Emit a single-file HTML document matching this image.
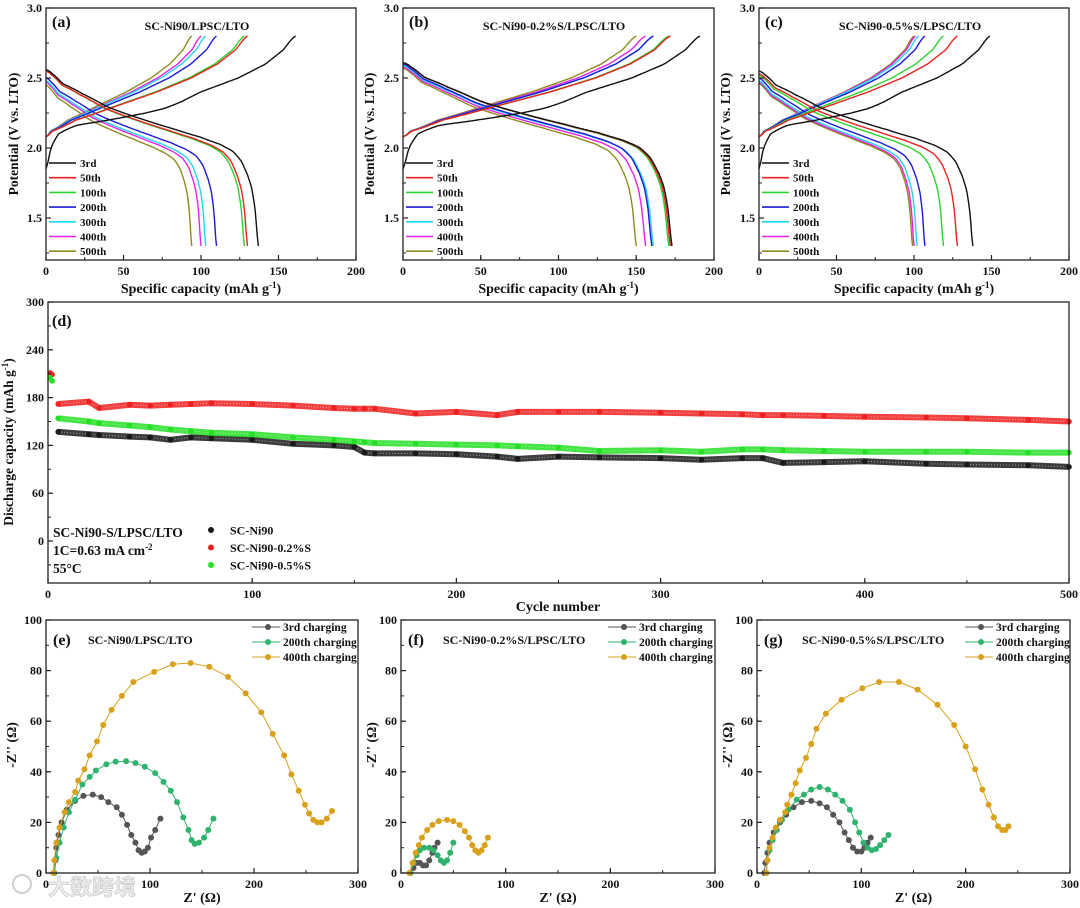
<!DOCTYPE html>
<html><head><meta charset="utf-8">
<style>
html,body{margin:0;padding:0;background:#fff;}
svg{display:block;font-family:"Liberation Serif","Noto Serif CJK SC",serif;font-weight:bold;}
</style></head>
<body>
<svg id="fig" width="1080" height="908" viewBox="0 0 1080 908" xmlns="http://www.w3.org/2000/svg"></svg>
<script>
// ---------- DATA ----------
const cycleLabels = ["3rd","50th","100th","200th","300th","400th","500th"];
const cycleColors = ["#111111","#e8231f","#2fd12f","#1b1bd6","#22d8e8","#e524e5","#8f8a22"];
// panel a
const aChargeCap = [161,130,128,110,103,100,94];
const aDischCap  = [137,130,128,110,103,100,94];
const aDischStart = [2.56,2.55,2.55,2.50,2.48,2.47,2.45];
// panel b
const bChargeCap = [191,172,171,161,161,156,150];
const bDischCap  = [173,172,171,160,161,156,150];
const bDischStart = [2.61,2.61,2.61,2.60,2.59,2.58,2.57];
// panel c
const cChargeCap = [149,128,119,107,103,101,100];
const cDischCap  = [138,128,119,107,102,100,99];
const cDischStart = [2.55,2.53,2.52,2.50,2.48,2.47,2.46];
// normalized curve shapes (fraction of capacity -> V)
const chgFirstFrac = [0,0.02,0.05,0.12,0.25,0.4,0.5,0.62,0.77,0.88,0.95,1];
const chgFirstV    = [1.85,2.0,2.1,2.16,2.2,2.25,2.3,2.4,2.5,2.6,2.7,2.8];
const chgFrac = [0,0.03,0.15,0.35,0.55,0.72,0.85,0.94,1];
const chgV    = [2.08,2.12,2.2,2.3,2.4,2.5,2.6,2.7,2.8];
const disFrac = [0,0.03,0.08,0.17,0.3,0.45,0.6,0.73,0.82,0.88,0.92,0.95,0.97,0.985,1];
const disDrop = [0,0.03,0.1,0.17,0.27,0.35,0.42,0.48,0.53,0.58,0.65,0.75,0.85,1.0,1.25];
// panel d (cycle, capacity)
const dCycles = [5,20,25,40,50,60,70,80,100,120,140,150,155,160,180,200,220,230,250,270,300,320,340,350,360,380,400,430,450,480,500];
const dNi90   = [137,134,133,131,130,127,130,129,127,122,120,118,111,110,110,109,106,103,106,105,104,102,104,104,98,99,100,97,96,95,93];
const dNi90_02= [172,175,167,171,170,171,172,173,172,170,167,166,166,166,160,162,158,162,162,162,161,160,159,158,158,157,156,155,154,152,150];
const dNi90_05= [154,150,148,145,143,140,138,136,134,130,127,125,124,123,122,121,120,119,117,113,114,112,115,115,114,113,112,112,112,111,111];
const dFirstCycles=[1,2]; const dFirst02=[211,209]; const dFirst05=[205,201];
// EIS
const e3x=[8,9,10,12,15,20,28,36,45,53,60,68,73,78,82,86,89,92,95,98,101,105,110];
const e3y=[0,5,10,15,20,25,28.5,30.5,31,30,28,26,23,19,15,12,9,8,8.5,10,14,17,21.5];
const e200x=[8,10,13,17,22,28,35,42,48,58,67,77,86,95,105,113,120,126,132,137,140,143,147,152,156,161];
const e200y=[0,6,12,18,24,29,35,38,40.5,43,44,44.2,43.5,42,39.5,36,32.5,28,22,17,13,11.5,12,14,17,21.5];
const e400x=[7,8,10,13,18,22,28,31,37,42,49,55,63,73,84,104,122,139,157,175,192,207,218,229,236,243,249,253,257,261,265,270,275];
const e400y=[0,5,12,18,24,28,32,36.5,41,46.5,52,58.5,64.5,70,75.5,79.5,82.5,83,81.5,77.5,71,63.5,55,46.5,39,32.5,27,23.5,21,20,20,21.5,24.5];
const f3x=[9,12,15,18,21,24,27,30,32,35];
const f3y=[0,2,4,4,3,3,5,8,10,12];
const f200x=[9,12,15,18,22,27,31,35,38,41,44,47,50];
const f200y=[0,4,7,9,10,10,9,7,5,4,5,8,12];
const f400x=[8,11,14,17,20,25,30,36,44,50,56,61,65,68,71,74,77,80,83];
const f400y=[0,4,8,11,14,17,19,20.5,21,20.5,19,16.5,14,11,9,8,9,11,14];
const g3x=[7,8,10,12,16,22,28,35,43,52,60,67,73,79,84,88,92,96,100,103,106,109];
const g3y=[0,4,8,12,16,20,23,26,28,28.5,27.5,26,23,20,16,13,10,8.5,8.5,10,12,14];
const g200x=[9,10,12,15,19,24,30,38,45,52,60,68,75,82,89,94,98,102,106,110,114,118,122,126];
const g200y=[0,5,9,13,17,21,25,29,31,33,34,33,31,28.5,25,20,16,12,10,9,9.5,11,13,15];
const g400x=[9,10,12,15,18,22,27,29,33,37,41,47,52,57,66,81,101,117,136,154,173,189,200,209,216,222,227,231,235,238,241];
const g400y=[0,5,10,14,18,21,24,27,31,35.5,40.5,45.5,51,57,63,68.5,73,75.5,75.5,72.5,66.5,58.5,50,41,33,27,22,18.5,17,17,18.5];
const eisLabels=["3rd charging","200th charging","400th charging"];
const eisColors=["#555555","#2fb36e","#d9a11b"];

// ---------- HELPERS ----------
const svg=document.getElementById('fig');
const NS="http://www.w3.org/2000/svg";
function mk(tag,attrs,parent){const e=document.createElementNS(NS,tag);for(const k in attrs)e.setAttribute(k,attrs[k]);(parent||svg).appendChild(e);return e;}
function txt(s,x,y,size,anchor,parent,extra){const t=mk('text',Object.assign({x:x,y:y,'font-size':size,'text-anchor':anchor||'start',fill:'#111'},extra||{}),parent);t.textContent=s;return t;}
function lin(xs,ys,x){for(let i=0;i<xs.length-1;i++){if(x<=xs[i+1]){const t=(x-xs[i])/(xs[i+1]-xs[i]);return ys[i]+t*(ys[i+1]-ys[i]);}}return ys[ys.length-1];}
// monotone-ish smooth interpolation (Catmull-Rom on y)
function smooth(xs,ys,x){let i=0;while(i<xs.length-2&&x>xs[i+1])i++;const t=(x-xs[i])/(xs[i+1]-xs[i]);
  const y0=ys[Math.max(i-1,0)],y1=ys[i],y2=ys[i+1],y3=ys[Math.min(i+2,ys.length-1)];
  const t2=t*t,t3=t2*t;return 0.5*((2*y1)+(-y0+y2)*t+(2*y0-5*y1+4*y2-y3)*t2+(-y0+3*y1-3*y2+y3)*t3);}
function scale(d0,d1,r0,r1){return v=>r0+(v-d0)/(d1-d0)*(r1-r0);}

function frame(g,x0,y0,x1,y1){const r=mk('rect',{x:x0,y:y0,width:x1-x0,height:y1-y0,fill:'none',stroke:'#222','stroke-width':1.3},g);}
function xticks(g,sx,y1,vals,minorStep,lo,hi,fs){
  vals.forEach(v=>{mk('line',{x1:sx(v),x2:sx(v),y1:y1,y2:y1-5,stroke:'#222','stroke-width':1.2},g);const t=txt(String(v),sx(v),y1+15,fs,'middle',g);});
  for(let v=lo;v<=hi+1e-9;v+=minorStep){mk('line',{x1:sx(v),x2:sx(v),y1:y1,y2:y1-3,stroke:'#222','stroke-width':1},g);}
}
function yticks(g,sy,x0,vals,labels,minorStep,lo,hi,fs){
  vals.forEach((v,i)=>{mk('line',{x1:x0,x2:x0+5,y1:sy(v),y2:sy(v),stroke:'#222','stroke-width':1.2},g);const t=txt(labels[i],x0-4,sy(v)+4,fs,'end',g);});
  for(let v=lo;v<=hi+1e-9;v+=minorStep){mk('line',{x1:x0,x2:x0+3,y1:sy(v),y2:sy(v),stroke:'#222','stroke-width':1},g);}
}

// ---------- GCD PANELS ----------
function gcdPanel(name,letter,title,x0,x1,chg,dis,dstart,ylabelX){
  const g=mk('g',{});
  const y0=8,y1=260;
  const sx=scale(0,200,x0,x1), sy=scale(1.2,3.0,y1,y0);
  for(let i=cycleLabels.length-1;i>=0;i--){
    let pts=[];
    const fr=i===0?chgFirstFrac:chgFrac, vv=i===0?chgFirstV:chgV;
    for(let k=0;k<=120;k++){const f=k/120;pts.push(sx(f*chg[i]).toFixed(1)+','+sy(smooth(fr,vv,f)).toFixed(1));}
    const p=mk('polyline',{points:pts.join(' '),fill:'none',stroke:cycleColors[i],'stroke-width':1.4},g);
    
    pts=[];
    for(let k=0;k<=200;k++){const f=k/200;pts.push(sx(f*dis[i]).toFixed(1)+','+sy(dstart[i]-smooth(disFrac,disDrop,f)*(dstart[i]-1.3)/1.25).toFixed(1));}
    const q=mk('polyline',{points:pts.join(' '),fill:'none',stroke:cycleColors[i],'stroke-width':1.4},g);
    
  }
  frame(g,x0,y0,x1,y1);
  xticks(g,sx,y1,[0,50,100,150,200],25,0,200,12);
  yticks(g,sy,x0,[1.5,2.0,2.5,3.0],["1.5","2.0","2.5","3.0"],0.25,1.25,3.0,12);
  const l=txt('('+letter+')',x0+6,y0+19,16,'start',g);
  const t=txt(title,x0+151,y0+22,12,'middle',g);
  const xt=mk('text',{x:(x0+x1)/2,y:y1+33,'font-size':14,'text-anchor':'middle',fill:'#111'},g);
  xt.innerHTML='Specific capacity (mAh g<tspan dy="-5" font-size="9">-1</tspan><tspan dy="5">)</tspan>';
  
  const yt=txt('Potential (V vs. LTO)',0,0,13.5,'middle',g,{transform:'translate('+ylabelX+','+((y0+y1)/2)+') rotate(-90)'});
  
  cycleLabels.forEach((lb,i)=>{const yy=163+i*14.7;
    const ln=mk('line',{x1:x0+3,x2:x0+30,y1:yy,y2:yy,stroke:cycleColors[i],'stroke-width':1.6},g);
    const lt=txt(lb,x0+34,yy+4,11,'start',g);});
}
gcdPanel('a','a','SC-Ni90/LPSC/LTO',46,356,aChargeCap,aDischCap,aDischStart,18);
gcdPanel('b','b','SC-Ni90-0.2%S/LPSC/LTO',403,714,bChargeCap,bDischCap,bDischStart,374);
gcdPanel('c','c','SC-Ni90-0.5%S/LPSC/LTO',759,1069,cChargeCap,cDischCap,cDischStart,730);

// ---------- CYCLING PANEL d ----------
(function(){
  const g=mk('g',{});
  const x0=48,x1=1069,y0=302,y1=583;
  const sx=scale(0,500,x0,x1), sy=scale(0,300,541,302);
  const series=[[dNi90,'#1a1a1a','SC-Ni90',null],[dNi90_02,'#ee2020','SC-Ni90-0.2%S',dFirst02],[dNi90_05,'#25e025','SC-Ni90-0.5%S',dFirst05]];
  series.forEach(s=>{
    const pts=dCycles.map((c,i)=>sx(c).toFixed(1)+','+sy(s[0][i]).toFixed(1)).join(' ');
    const p=mk('polyline',{points:pts,fill:'none',stroke:s[1],'stroke-width':6,'stroke-linejoin':'round','stroke-opacity':0.85},g);
    
    const p2=mk('polyline',{points:pts,fill:'none',stroke:'#fff','stroke-width':1,'stroke-dasharray':'1 2','stroke-opacity':0.5},g);
    
    dCycles.forEach((c,i)=>{const m=mk('circle',{cx:sx(c),cy:sy(s[0][i]),r:2.8,fill:s[1]},g);});
    if(s[3]) dFirstCycles.forEach((c,i)=>{const m=mk('circle',{cx:sx(c),cy:sy(s[3][i]),r:2.8,fill:s[1]},g);});
  });
  frame(g,x0,y0,x1,y1);
  xticks(g,sx,y1,[0,100,200,300,400,500],50,0,500,12);
  yticks(g,sy,x0,[0,60,120,180,240,300],["0","60","120","180","240","300"],30,-30,300,12);
  const l=txt('(d)',x0+4,y0+24,16,'start',g);
  const xt=txt('Cycle number',558,611,14,'middle',g);
  const yt=mk('text',{x:0,y:0,'font-size':13.5,'text-anchor':'middle',fill:'#111',transform:'translate(13,442) rotate(-90)'},g);
  yt.innerHTML='Discharge capacity (mAh g<tspan dy="-5" font-size="9">-1</tspan><tspan dy="5">)</tspan>';
  
  const a1=txt('SC-Ni90-S/LPSC/LTO',53,537,13.5,'start',g);
  const a2=mk('text',{x:53,y:555,'font-size':13.5,fill:'#111'},g);a2.innerHTML='1C=0.63 mA cm<tspan dy="-5" font-size="9">-2</tspan>';
  
  const a3=txt('55°C',53,573,13.5,'start',g);
  series.forEach((s,i)=>{const yy=530+i*17.5;
    const c=mk('circle',{cx:211,cy:yy,r:3,fill:s[1]},g);
    const t=txt(s[2],230,yy+4.5,12,'start',g);});
})();

// ---------- EIS PANELS ----------
function eisPanel(letter,title,x0,x1,sets,ylabelX,titleX,legX){
  const g=mk('g',{});
  const y0=620,y1=873;
  const sx=scale(0,300,x0,x1), sy=scale(0,100,y1,y0);
  sets.forEach((s,k)=>{
    const pts=s[0].map((v,i)=>sx(v).toFixed(1)+','+sy(s[1][i]).toFixed(1)).join(' ');
    const p=mk('polyline',{points:pts,fill:'none',stroke:eisColors[k],'stroke-width':1},g);
    
    s[0].forEach((v,i)=>{const c=mk('circle',{cx:sx(v),cy:sy(s[1][i]),r:3,fill:eisColors[k]},g);});
  });
  frame(g,x0,y0,x1,y1);
  xticks(g,sx,y1,[0,100,200,300],50,0,300,12);
  yticks(g,sy,x0,[0,20,40,60,80,100],["0","20","40","60","80","100"],10,0,100,12);
  const l=txt('('+letter+')',x0+7,y0+25,16,'start',g);
  const t=txt(title,titleX,y0+24,12,'start',g);
  const xt=txt("Z' (Ω)",(x0+x1)/2,902,14,'middle',g);
  const yt=txt("-Z'' (Ω)",0,0,14,'middle',g,{transform:'translate('+ylabelX+',745) rotate(-90)'});
  eisLabels.forEach((lb,k)=>{const yy=627+k*15;
    const ln=mk('line',{x1:legX,x2:legX+28,y1:yy,y2:yy,stroke:eisColors[k],'stroke-width':1},g);
    const c=mk('circle',{cx:legX+16,cy:yy,r:3,fill:eisColors[k]},g);
    const lt=txt(lb,legX+31,yy+4,11.5,'start',g);});
}
eisPanel('e','SC-Ni90/LPSC/LTO',46,358,[[e3x,e3y],[e200x,e200y],[e400x,e400y]],16,88,252);
eisPanel('f','SC-Ni90-0.2%S/LPSC/LTO',401,715,[[f3x,f3y],[f200x,f200y],[f400x,f400y]],376,443,608);
eisPanel('g','SC-Ni90-0.5%S/LPSC/LTO',757,1070,[[g3x,g3y],[g200x,g200y],[g400x,g400y]],732,802,965);

// watermark
const wm=txt('大数跨境',48,895,22,'start',svg,{fill:'#ececec',stroke:'#c4c4c4','stroke-width':0.6,'font-family':'"Noto Sans CJK SC",sans-serif'});


const wl=mk('circle',{cx:22,cy:884,r:9,fill:'none',stroke:'#cfcfcf','stroke-width':2});


</script>
</body></html>
